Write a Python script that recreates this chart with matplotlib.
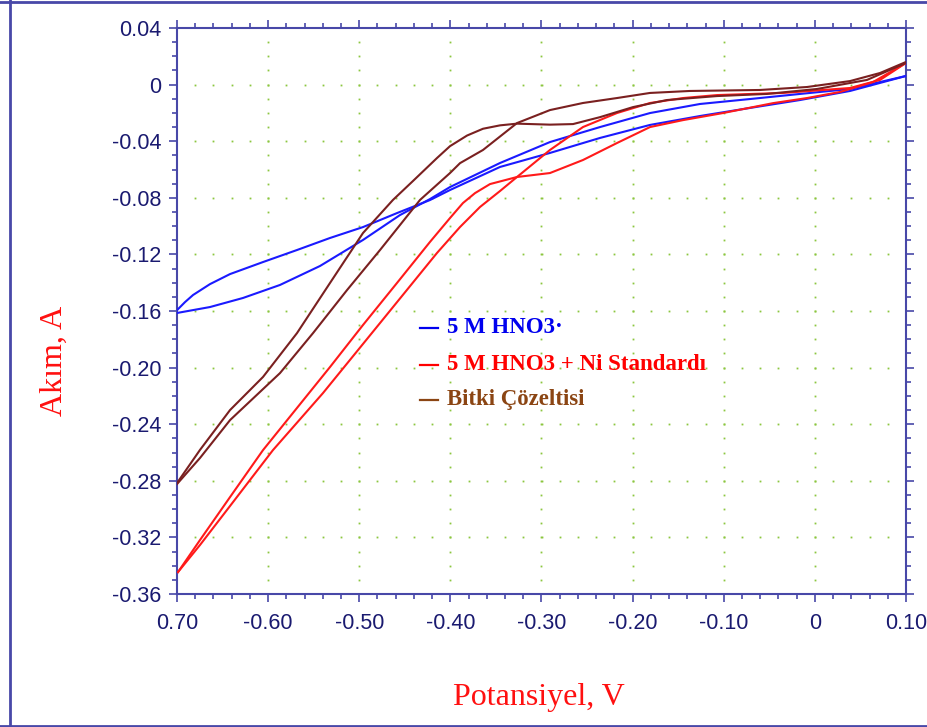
import matplotlib
matplotlib.use("Agg")
import matplotlib.pyplot as plt
from matplotlib.lines import Line2D
import numpy as np

# ---------------- data (V, A) ----------------
blue_fwd_x = [-0.700, -0.6912, -0.6824, -0.6638, -0.6418, -0.6056, -0.5683, -0.5321, -0.4959, -0.4586,
              -0.4224, -0.4004, -0.3455, -0.2907, -0.2358, -0.1809, -0.1261, -0.0712, -0.0163, 0.0386, 0.100]
blue_fwd_y = [-0.1594, -0.1537, -0.1487, -0.1410, -0.1339, -0.1254, -0.1169, -0.1084, -0.1007, -0.0908,
              -0.0816, -0.0745, -0.0582, -0.0483, -0.0377, -0.0285, -0.0222, -0.0165, -0.0109, -0.0045, 0.0061]
blue_rev_x = [-0.700, -0.6638, -0.6276, -0.5870, -0.5431, -0.4959, -0.4553, -0.4224, -0.4004,
              -0.3455, -0.2907, -0.2358, -0.1809, -0.1261, -0.0712, -0.0163, 0.0386, 0.100]
blue_rev_y = [-0.1614, -0.1572, -0.1508, -0.1416, -0.1282, -0.1098, -0.0922, -0.0809, -0.0724,
              -0.0554, -0.0406, -0.0300, -0.0201, -0.0137, -0.0102, -0.0066, -0.0031, 0.0061]

red_fwd_x = [-0.6989, -0.6748, -0.6418, -0.6056, -0.5683, -0.5321, -0.4959, -0.4586, -0.4224, -0.4004,
             -0.3862, -0.3730, -0.3565, -0.3269, -0.2907, -0.2545, -0.2172, -0.1809, -0.1447, -0.1008,
             -0.0459, -0.0086, 0.0276, 0.0638, 0.100]
red_fwd_y = [-0.3445, -0.3219, -0.2915, -0.2583, -0.2285, -0.1996, -0.1699, -0.1402, -0.1112, -0.0943,
             -0.0837, -0.0767, -0.0703, -0.0653, -0.0625, -0.0533, -0.0413, -0.0300, -0.0251, -0.0201,
             -0.0131, -0.0095, -0.0052, 0.0018, 0.0153]
red_rev_x = [-0.6989, -0.6748, -0.6418, -0.5947, -0.5398, -0.4772, -0.4147, -0.3895, -0.3675, -0.3455,
             -0.3269, -0.2907, -0.2545, -0.2172, -0.1809, -0.1447, -0.1074, -0.0350, 0.0386, 0.0715, 0.100]
red_rev_y = [-0.3445, -0.3254, -0.2978, -0.2583, -0.2180, -0.1685, -0.1190, -0.1007, -0.0865, -0.0752,
             -0.0653, -0.0462, -0.0300, -0.0201, -0.0130, -0.0095, -0.0074, -0.0059, -0.0024, 0.0033, 0.0153]

brown_fwd_x = [-0.700, -0.6748, -0.6418, -0.6056, -0.5683, -0.5321, -0.4959, -0.4630, -0.4410, -0.4147,
               -0.4004, -0.3817, -0.3642, -0.3455, -0.3269, -0.2907, -0.2654, -0.2358, -0.1996, -0.1623,
               -0.1074, -0.0526, 0.0023, 0.0572, 0.100]
brown_fwd_y = [-0.2816, -0.2582, -0.2300, -0.2066, -0.1756, -0.1402, -0.1049, -0.0815, -0.0681, -0.0519,
               -0.0435, -0.0360, -0.0312, -0.0288, -0.0276, -0.0283, -0.0279, -0.0230, -0.0159, -0.0109,
               -0.0081, -0.0066, -0.0031, 0.0033, 0.0153]
brown_rev_x = [-0.700, -0.6748, -0.6418, -0.5870, -0.5507, -0.5134, -0.4772, -0.4333, -0.4004, -0.3894,
               -0.3642, -0.3269, -0.2907, -0.2545, -0.2172, -0.1809, -0.1371, -0.0602, -0.0086, 0.0386,
               0.0715, 0.100]
brown_rev_y = [-0.2823, -0.2639, -0.2371, -0.2039, -0.1756, -0.1452, -0.1169, -0.0815, -0.0625, -0.0555,
               -0.0462, -0.0272, -0.0180, -0.0130, -0.0095, -0.0059, -0.0045, -0.0038, -0.0017, 0.0025,
               0.0082, 0.0160]

x_ticks = [-0.70, -0.60, -0.50, -0.40, -0.30, -0.20, -0.10, 0.0, 0.10]
x_tick_labels = ['0.70', '-0.60', '-0.50', '-0.40', '-0.30', '-0.20', '-0.10', '0', '0.10']
y_ticks = [0.04, 0.0, -0.04, -0.08, -0.12, -0.16, -0.20, -0.24, -0.28, -0.32, -0.36]
y_tick_labels = ['0.04', '0', '-0.04', '-0.08', '-0.12', '-0.16', '-0.20', '-0.24', '-0.28', '-0.32', '-0.36']

legend_labels = ['5 M HNO3·', '5 M HNO3 + Ni Standardı', 'Bitki Çözeltisi']

# ---------------- styling ----------------
C_BLUE = '#1a1aff'
C_RED = '#ff1a1a'
C_BROWN = '#7a2020'
C_AXIS = '#4848a8'
C_TICK = '#1a1a70'
C_GRID = '#8cc63f'
legend_colors = ['#0000ee', '#ff0000', '#8b4513']

W, H = 928, 727
fig = plt.figure(figsize=(W / 100, H / 100), dpi=100)
fig.patch.set_facecolor('white')
L, R, T, B = 177, 906, 28, 594
ax = fig.add_axes([L / W, 1 - B / H, (R - L) / W, (B - T) / H])

ax.set_xlim(-0.70, 0.10)
ax.set_ylim(-0.36, 0.04)

# dotted grid: dots at minor positions along major lines
minor_x = np.arange(-0.70, 0.1001, 0.02)
minor_y = np.arange(-0.36, 0.0401, 0.01)
for xv in x_ticks[1:-1]:
    ax.plot([xv] * len(minor_y[1:-1]), minor_y[1:-1], ls='none', marker='s', ms=1.3,
            mew=0, color=C_GRID, zorder=1)
for yv in y_ticks[1:-1]:
    ax.plot(minor_x[1:-1], [yv] * len(minor_x[1:-1]), ls='none', marker='s', ms=1.3,
            mew=0, color=C_GRID, zorder=1)

lw = 1.5
ax.plot(blue_fwd_x, blue_fwd_y, color=C_BLUE, lw=lw, zorder=3)
ax.plot(blue_rev_x, blue_rev_y, color=C_BLUE, lw=lw, zorder=3)
ax.plot(red_fwd_x, red_fwd_y, color=C_RED, lw=lw, zorder=3)
ax.plot(red_rev_x, red_rev_y, color=C_RED, lw=lw, zorder=3)
ax.plot(brown_fwd_x, brown_fwd_y, color=C_BROWN, lw=lw, zorder=4)
ax.plot(brown_rev_x, brown_rev_y, color=C_BROWN, lw=lw, zorder=4)

for s in ax.spines.values():
    s.set_color(C_AXIS)
    s.set_linewidth(1.5)

ax.set_xticks(x_ticks)
ax.set_xticklabels(x_tick_labels)
ax.set_yticks(y_ticks)
ax.set_yticklabels(y_tick_labels)
ax.set_xticks(minor_x, minor=True)
ax.set_yticks(minor_y, minor=True)
ax.tick_params(which='both', direction='out', color=C_AXIS, width=1.2,
               top=True, right=True, labeltop=False, labelright=False)
ax.tick_params(which='major', length=6)
ax.tick_params(which='minor', length=3.5)
ax.tick_params(axis='x', which='major', pad=8)
ax.tick_params(axis='y', which='major', pad=5)
for lab in ax.get_xticklabels() + ax.get_yticklabels():
    lab.set_fontfamily('Liberation Sans')
    lab.set_fontsize(15.5)
    lab.set_color(C_TICK)

# legend (text)
leg_y = [0.470, 0.4046, 0.3428]
for lbl, col, yy in zip(legend_labels, legend_colors, leg_y):
    ax.add_line(Line2D([0.333, 0.358], [yy, yy], transform=ax.transAxes, color=col, lw=1.6, zorder=5))
    ax.text(0.371, yy, lbl, transform=ax.transAxes, color=col, fontsize=16.5,
            fontfamily='Liberation Serif', fontweight='bold', ha='left', va='center', zorder=5)

# axis titles
fig.text(54 / W, 1 - 361 / H, 'Akım, A', rotation=90, color='#ff1010', fontsize=23,
         fontfamily='Liberation Serif', ha='center', va='center')
fig.text(539 / W, 1 - 697 / H, 'Potansiyel, V', color='#ff1010', fontsize=23,
         fontfamily='Liberation Serif', ha='center', va='center')

# figure frame
fig.add_artist(Line2D([0, 1], [1 - 2 / H, 1 - 2 / H], transform=fig.transFigure, color=C_AXIS, lw=2))
fig.add_artist(Line2D([10 / W, 10 / W], [0, 1], transform=fig.transFigure, color=C_AXIS, lw=2))
fig.add_artist(Line2D([0, 1], [1 - 726 / H, 1 - 726 / H], transform=fig.transFigure, color=C_AXIS, lw=2))

fig.savefig('out.png', dpi=100, facecolor='white')
